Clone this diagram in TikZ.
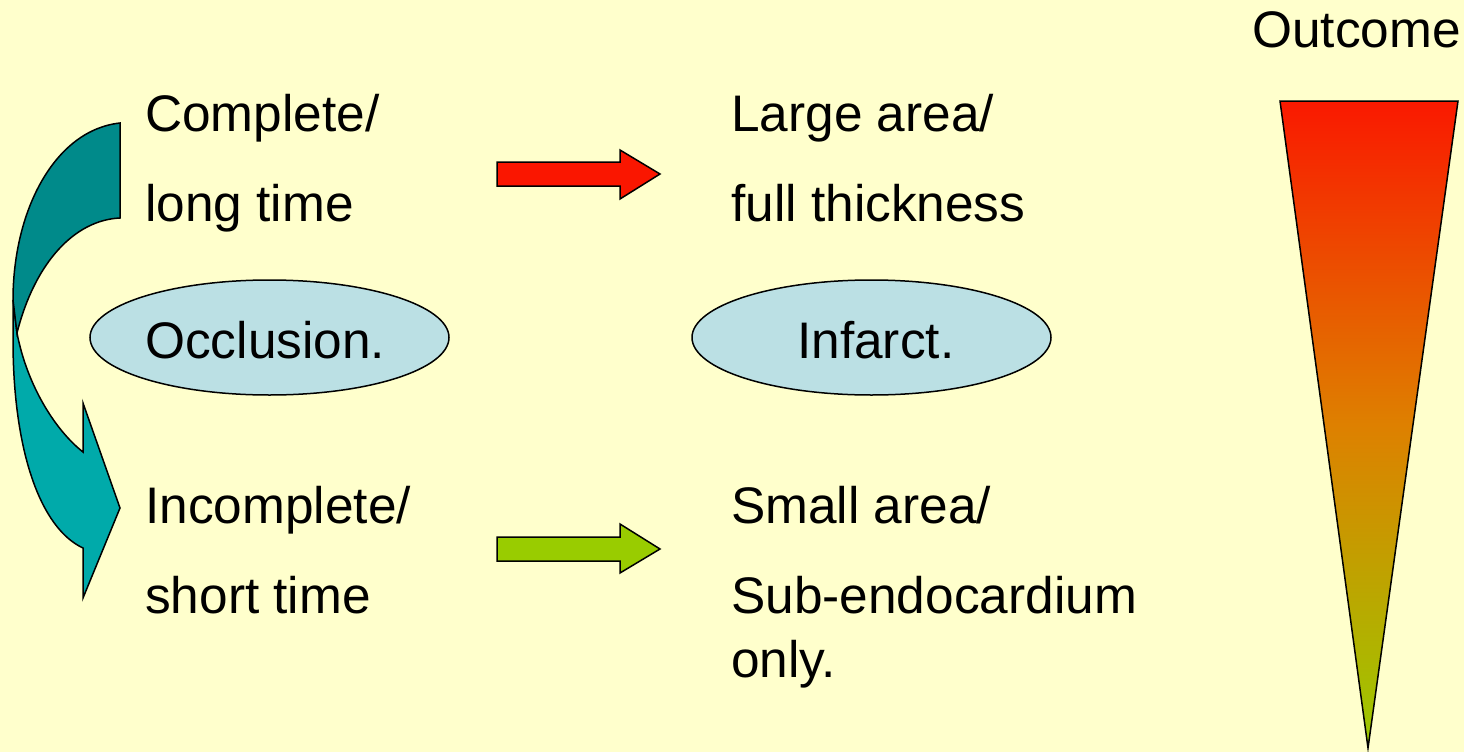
\documentclass[tikz,border=0pt]{standalone}
\usepackage{fontspec}
\setmainfont{Liberation Sans}
\usetikzlibrary{shapes.geometric}
\definecolor{bg}{RGB}{255,255,204}
\definecolor{ellfill}{RGB}{187,224,228}
\definecolor{tealdark}{RGB}{0,138,138}
\definecolor{teallight}{RGB}{0,170,170}
\definecolor{arrred}{RGB}{250,22,0}
\definecolor{arrgreen}{RGB}{153,204,0}
\definecolor{gradtop}{RGB}{250,25,0}
\definecolor{gradmid}{RGB}{222,128,0}
\definecolor{gradbot}{RGB}{155,202,0}
\begin{document}
\begin{tikzpicture}[x=1pt,y=-1pt,
  txt/.style={anchor=base west,inner sep=0pt,font=\fontsize{51.4}{60}\selectfont},
  oval/.style={ellipse,draw=black,line width=1.5pt,fill=ellfill,minimum width=359pt,minimum height=115pt,inner sep=0pt},
  shapeline/.style={draw=black,line width=1.5pt,line join=miter}]
\useasboundingbox (0,0) rectangle (1464,752);
\fill[bg] (0,0) rectangle (1464,752);

% curved arrow (light lower part first)
\path[shapeline,fill=teallight]
  (13,300) -- (13,340) .. controls (13,450) and (40,528) .. (83,548)
  -- (83,598) -- (120,508) -- (83,403) -- (83,452)
  .. controls (55,430) and (27,385) .. (17,333) -- cycle;
\path[shapeline,fill=tealdark]
  (120,123) .. controls (55,130) and (13,210) .. (13,300)
  -- (17,333) .. controls (35,262) and (75,220) .. (120,218) -- cycle;

% left texts
\node[txt] (c1) at (145,131) {Complete/};
\node[txt] (c2) at (145,221) {long time};
\node[oval] (occ) at (269.5,337.5) {};
\node[txt] (occt) at (145,358) {Occlusion.};
\node[txt] (ic1) at (145,523) {Incomplete/};
\node[txt] (ic2) at (145,613) {short time};

% right texts
\node[txt] (la1) at (731,131) {Large area/};
\node[txt] (la2) at (731,221) {full thickness};
\node[oval] (inf) at (871.5,337.5) {};
\node[txt] (inft) at (797,358) {Infarct.};
\node[txt] (sa1) at (731,523) {Small area/};
\node[txt] (sa2) at (731,613) {Sub-endocardium};
\node[txt] (sa3) at (731,677) {only.};

% block arrows
\path[shapeline,fill=arrred]
  (497,162) -- (620,162) -- (620,150) -- (660,174) -- (620,199) -- (620,186) -- (497,186) -- cycle;
\path[shapeline,fill=arrgreen]
  (497,537) -- (620,537) -- (620,524) -- (660,549) -- (620,573) -- (620,561) -- (497,561) -- cycle;

% outcome
\node[txt] (out) at (1252,48) {Outcome};
\shade[top color=gradtop,bottom color=gradbot,middle color=gradmid]
  (1280,101) -- (1458,101) -- (1368,748) -- cycle;
\draw[line width=1.5pt,line join=miter] (1280,101) -- (1458,101) -- (1368,748) -- cycle;
\end{tikzpicture}
\end{document}
